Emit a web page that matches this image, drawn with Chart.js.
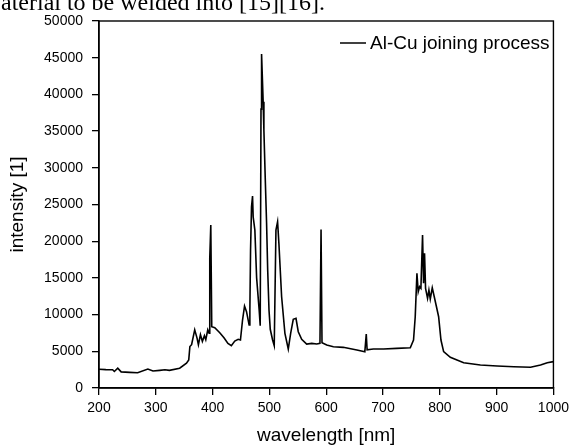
<!DOCTYPE html>
<html>
<head>
<meta charset="utf-8">
<script src="https://cdn.jsdelivr.net/npm/chart.js@4/dist/chart.umd.min.js"></script>
<style>
  html, body { margin: 0; padding: 0; background: #fff; }
  #wrap { width: 574px; height: 447px; }
</style>
</head>
<body>
<div id="wrap"><canvas id="c" width="574" height="447"></canvas></div>
<script>
// Emission spectrum of the Al-Cu joining process
const wavelength = [
  200, 212, 224, 227, 233, 239, 254, 268, 286, 295, 307, 316, 324, 342, 354, 358,
  360, 363, 368.5, 372.6, 375, 378.6, 382, 385.6, 388, 391.5, 393.8, 395, 396.8, 398.5,
  403.8, 412.6, 420, 427, 433, 439, 445, 449, 452.7, 456.2, 459.7, 464.3, 465.6, 466.8,
  468.5, 470.3, 471.4, 474.4, 477.5, 482, 483.8, 485.2, 486.2, 487.5, 489, 490.3, 492.5,
  495, 497, 499.3, 501.5, 505.6, 508.5, 511.5, 514.4, 516.7, 521.5, 527.3, 533.2, 537.4,
  542, 546.8, 550.8, 556.8, 565.6, 574.5, 583.3, 589, 590.9, 592.6, 600.9, 612.6, 630,
  654, 668, 670.5, 672, 683, 701, 724, 748, 753.7, 756.7, 759.7, 762, 764.4, 766.7,
  769.6, 771.4, 773.1, 774.9, 778.4, 780.8, 783.2, 786.7, 790.2, 793.8, 797.9, 802,
  806.7, 818.5, 842, 871.4, 900.9, 930.3, 959.7, 977.3, 989.1, 1000
];
const intensity = [
  2550, 2500, 2480, 2250, 2710, 2200, 2130, 2080, 2590, 2310, 2400, 2480, 2400, 2700, 3380, 3830,
  5650, 5900, 7930, 6800, 5900, 7260, 6350, 7130, 6580, 7930, 7480, 17660, 22200, 8350,
  8210, 7530, 6850, 6080, 5760, 6400, 6630, 6540, 9260, 11170, 10400, 8580, 10600, 18800,
  24700, 26150, 23330, 21500, 15000, 10600, 8490, 38000, 45500, 42500, 39000, 35100, 29000,
  22500, 16000, 10600, 8000, 6540, 5760, 21500, 22650, 19700, 12430, 7450, 5310, 7450,
  9360, 9490, 7670, 6630, 5990, 6080, 5990, 6080, 21600, 6170, 5850, 5630, 5540,
  5175, 4950, 7350, 5200, 5310, 5310, 5400, 5490, 6540, 9710, 15620, 13120, 13800, 13580,
  20840, 14260, 18350, 13580, 12220, 13350, 12130, 13660, 12430, 11170, 9710, 6540,
  4950, 4180, 3450, 3130, 3000, 2900, 2820, 3130, 3450, 3590
];
const xTicks = [200, 300, 400, 500, 600, 700, 800, 900, 1000];
const yTicks = [0, 5000, 10000, 15000, 20000, 25000, 30000, 35000, 40000, 45000, 50000];
const seriesName = 'Al-Cu joining process';
const captionLine = 'aterial to be welded into [15][16].';

const SANS = '"Liberation Sans", Arial, sans-serif';
const SERIF = '"Liberation Serif", "Times New Roman", serif';

const points = wavelength.map((w, i) => ({ x: w, y: intensity[i] }));

const PAD = { top: 21, right: 19, left: 6, bottom: 0 };
const AREA_LEFT = 99;
const AREA_BOTTOM = 388;

const framePlugin = {
  id: 'frame',
  beforeDraw(chart) {
    const ctx = chart.ctx;
    ctx.save();
    ctx.fillStyle = '#fff';
    ctx.fillRect(0, 0, chart.width, chart.height);
    // text line of the surrounding document, cut at the top edge
    ctx.fillStyle = '#000';
    ctx.font = '24px ' + SERIF;
    ctx.textBaseline = 'alphabetic';
    ctx.textAlign = 'left';
    ctx.fillText(captionLine, 1, 10);
    ctx.restore();
  },
  afterDraw(chart) {
    const ctx = chart.ctx;
    const a = chart.chartArea;
    ctx.save();
    // closed box around the plot
    ctx.strokeStyle = '#000';
    ctx.lineWidth = 1.4;
    ctx.strokeRect(a.left, a.top, a.right - a.left, a.bottom - a.top);
    // legend entry in the upper right corner
    const ds = chart.data.datasets[0];
    const ly = a.top + 22;
    ctx.lineWidth = 1.5;
    ctx.beginPath();
    ctx.moveTo(340, ly);
    ctx.lineTo(366, ly);
    ctx.stroke();
    ctx.fillStyle = '#000';
    ctx.font = '19px ' + SANS;
    ctx.textBaseline = 'middle';
    ctx.textAlign = 'left';
    ctx.fillText(ds.label, 370, ly + 1);
    ctx.restore();
  }
};

const axisCommon = {
  type: 'linear',
  border: { display: true, color: '#000', width: 1.4 },
  grid: { display: true, drawOnChartArea: false, drawTicks: true, tickLength: 7, color: '#000', lineWidth: 1.3 },
};

new Chart(document.getElementById('c'), {
  type: 'line',
  data: {
    datasets: [{
      label: seriesName,
      data: points,
      borderColor: '#000',
      borderWidth: 1.6,
      pointRadius: 0,
      tension: 0,
      fill: false
    }]
  },
  options: {
    responsive: false,
    animation: false,
    layout: { padding: PAD },
    plugins: { legend: { display: false }, tooltip: { enabled: false } },
    scales: {
      x: {
        ...axisCommon,
        position: 'bottom',
        min: 200, max: 1000,
        afterBuildTicks: s => { s.ticks = xTicks.map(v => ({ value: v })); },
        afterFit: s => { s.height = 447 - AREA_BOTTOM - PAD.bottom; },
        ticks: { color: '#000', font: { family: SANS, size: 14 }, padding: 5, maxRotation: 0, autoSkip: false, callback: v => String(v) },
        title: { display: true, text: 'wavelength [nm]', color: '#000', font: { family: SANS, size: 19 }, padding: { top: 4, bottom: 0 } }
      },
      y: {
        ...axisCommon,
        position: 'left',
        min: 0, max: 50000,
        afterBuildTicks: s => { s.ticks = yTicks.map(v => ({ value: v })); },
        afterFit: s => { s.width = AREA_LEFT - PAD.left; },
        ticks: { color: '#000', font: { family: SANS, size: 14 }, padding: 9, autoSkip: false, callback: v => String(v) },
        title: { display: true, text: 'intensity [1]', color: '#000', font: { family: SANS, size: 19 }, padding: { top: 0, bottom: 0 } }
      }
    }
  },
  plugins: [framePlugin]
});
</script>
</body>
</html>
